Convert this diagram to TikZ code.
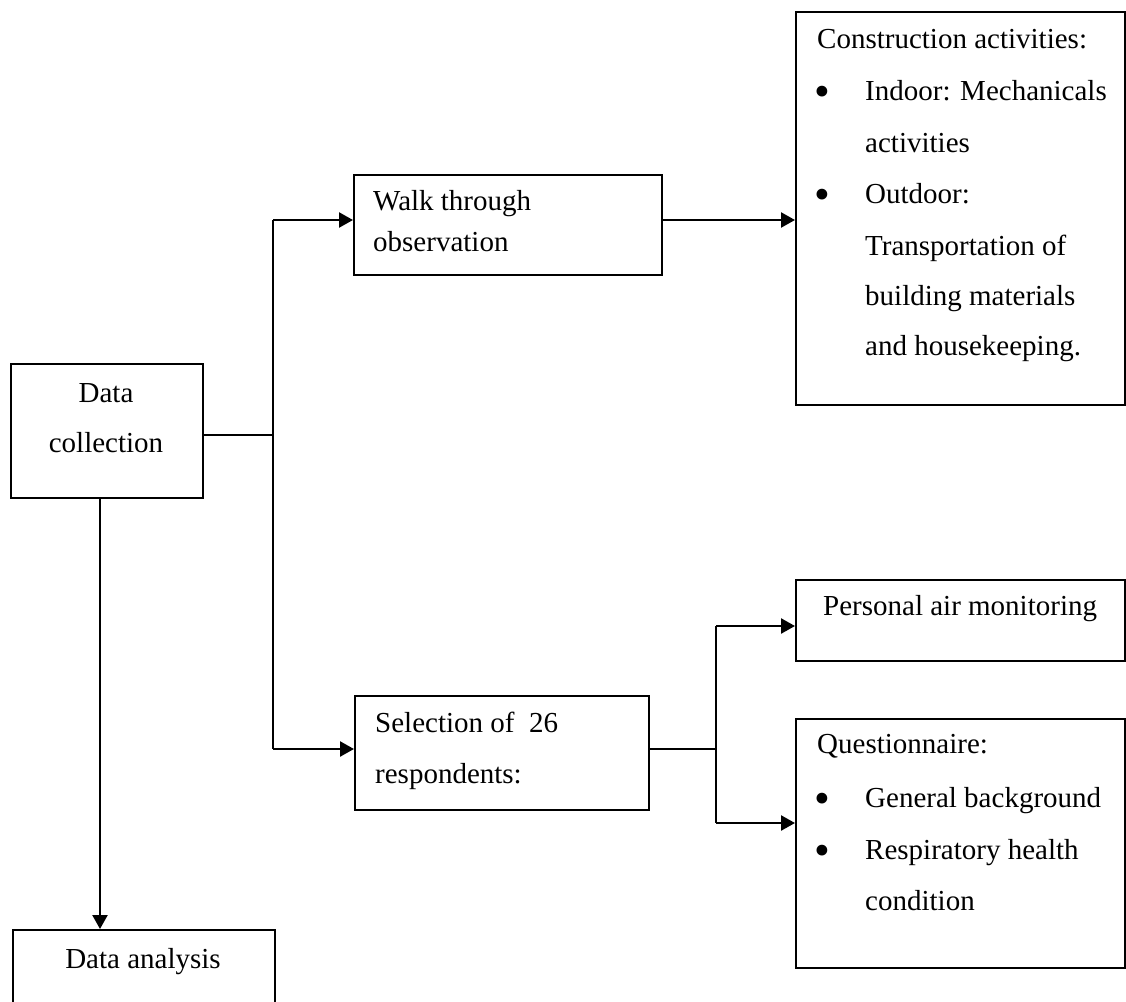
\documentclass[tikz,border=0pt]{standalone}
\usepackage{fontspec}
\setmainfont{Liberation Serif}
\usetikzlibrary{arrows.meta}
\tikzset{
  box/.style={draw, line width=2.4pt, rectangle, inner sep=0pt, anchor=north west},
  txt/.style={anchor=base west, inner sep=0pt, font=\fontsize{29}{35}\selectfont},
  ctxt/.style={anchor=base, inner sep=0pt, font=\fontsize{29}{35}\selectfont},
  bul/.style={anchor=base, inner sep=0pt, font=\fontsize{45}{50}\selectfont},
  conn/.style={line width=2.4pt},
  arr/.style={line width=2.4pt, -{Triangle[length=14pt,width=15pt]}}
}
\begin{document}
\begin{tikzpicture}[x=1pt,y=-1pt]
\useasboundingbox (0,0) rectangle (1126,1001);
\clip (0,0) rectangle (1126,1001);
% boxes
\node[box, minimum width=192pt, minimum height=134pt] (dc) at (10,363) {};
\node[box, minimum width=262pt, minimum height=90pt] (da) at (12,929) {};
\node[box, minimum width=308pt, minimum height=100pt] (wt) at (353,174) {};
\node[box, minimum width=329pt, minimum height=393pt] (ca) at (795,11) {};
\node[box, minimum width=294pt, minimum height=114pt] (sel) at (354,695) {};
\node[box, minimum width=329pt, minimum height=81pt] (pam) at (795,579) {};
\node[box, minimum width=329pt, minimum height=249pt] (q) at (795,718) {};
% texts
\node[ctxt] (t1) at (106,402) {Data};
\node[ctxt] (t2) at (106,452) {collection};
\node[ctxt] (t3) at (143,968) {Data analysis};
\node[txt] (t4) at (373,210) {Walk through};
\node[txt] (t5) at (373,251) {observation};
\node[txt] (t6) at (817,48) {Construction activities:};
\node[bul] (b1) at (822.5,106.5) {•};
\node[txt] (t7) at (865,100) {Indoor: Mechanicals};
\node[txt] (t8) at (865,152) {activities};
\node[bul] (b2) at (822.5,209.5) {•};
\node[txt] (t9) at (865,203) {Outdoor:};
\node[txt] (t10) at (865,255) {Transportation of};
\node[txt] (t11) at (865,305) {building materials};
\node[txt] (t12) at (865,355) {and housekeeping.};
\node[txt] (t13) at (375,732) {Selection of\ \ 26};
\node[txt] (t14) at (375,783) {respondents:};
\node[txt] (t15) at (823,615) {Personal air monitoring};
\node[txt] (t16) at (817,753) {Questionnaire:};
\node[bul] (b3) at (822.5,813.5) {•};
\node[txt] (t17) at (865,807) {General background};
\node[bul] (b4) at (822.5,865.5) {•};
\node[txt] (t18) at (865,859) {Respiratory health};
\node[txt] (t19) at (865,910) {condition};
% junction coordinates
\coordinate (j0) at (273,435);
\coordinate (a1) at (273,220);
\coordinate (a2) at (273,749);
\coordinate (k1) at (716,626);
\coordinate (k2) at (716,749);
\coordinate (k3) at (716,823);
\coordinate (c1) at (100,0);
% connectors
\draw[conn] (j0 -| dc.east) -- (j0);
\draw[conn] (a1) -- (a2);
\draw[arr] (a1) -- (a1 -| wt.west);
\draw[arr] (a2) -- (a2 -| sel.west);
\draw[arr] (a1 -| wt.east) -- (a1 -| ca.west);
\draw[conn] (k2 -| sel.east) -- (k2);
\draw[conn] (k1) -- (k3);
\draw[arr] (k1) -- (k1 -| pam.west);
\draw[arr] (k3) -- (k3 -| q.west);
\draw[arr] (c1 |- dc.south) -- (c1 |- da.north);
\end{tikzpicture}
\end{document}
